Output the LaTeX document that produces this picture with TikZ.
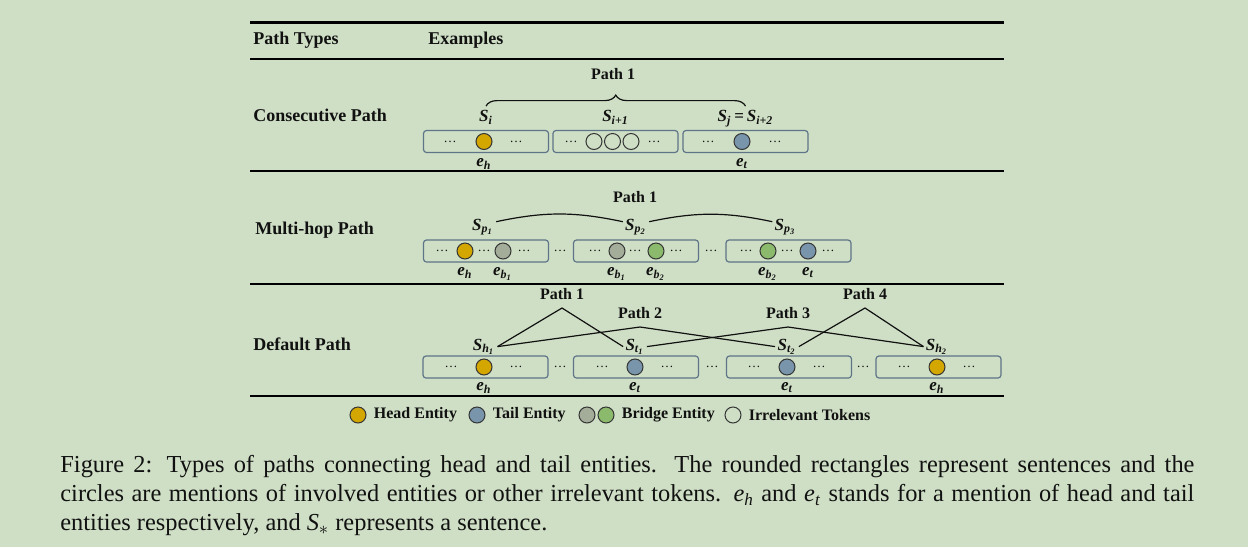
\documentclass[tikz,border=0pt]{standalone}
\usepackage{fontspec}
\setmainfont{Liberation Serif}
\usepackage{xcolor}
\usepackage{tikz}
\usetikzlibrary{positioning,decorations.pathreplacing}
\definecolor{paper}{HTML}{CFDFC5}
\definecolor{head}{HTML}{D4A600}
\definecolor{tail}{HTML}{7895AC}
\definecolor{bridgeA}{HTML}{A4AD9A}
\definecolor{bridgeB}{HTML}{8CBA6C}
\definecolor{frame}{HTML}{5E7589}
\definecolor{ink}{HTML}{111111}
\newcommand{\men}[2]{\textbf{\textit{#1\textsubscript{#2}}}}

\begin{document}
\begin{tikzpicture}[x=0.5pt, y=-0.5pt,
    every node/.style={text=ink, inner sep=1pt},
    lbl/.style={font=\fontsize{8}{9}\selectfont\bfseries},
    slbl/.style={font=\fontsize{8.5}{9}\selectfont, text height=6pt, text depth=2.5pt},
    elbl/.style={font=\fontsize{8.5}{9}\selectfont, text height=4pt, text depth=2.5pt},
    rowlbl/.style={font=\fontsize{9}{10}\selectfont\bfseries, anchor=west},
    apex/.style={lbl, anchor=south, outer sep=3pt},
    sent/.style={draw=frame, line width=0.6pt, rounded corners=1.5pt, minimum width=62.5pt, minimum height=11pt, inner sep=0pt},
    tok/.style={circle, draw=ink!85, line width=0.5pt, minimum size=8pt, inner sep=0pt},
    dd/.style={font=\fontsize{6.5}{7}\selectfont, inner sep=0pt},
    rule/.style={draw=black, line width=1pt},
    link/.style={draw=ink, line width=0.6pt}
  ]
  \fill[paper] (0,0) rectangle (1248,547);
  \useasboundingbox (0,0) rectangle (1248,547);

  % table rules and headers
  \draw[rule, line width=1.5pt] (250,22) -- (1004,22);
  \draw[rule] (250,59) -- (1004,59);
  \draw[rule] (250,171) -- (1004,171);
  \draw[rule] (250,284) -- (1004,284);
  \draw[rule, line width=1.2pt] (250,396) -- (1004,396);
  \node[rowlbl] (hdtype) at (251,40) {Path Types};
  \node[rowlbl] (hdex) at (426,40) {Examples};
  \node[rowlbl] (rcons) at (251,115) {Consecutive Path};
  \node[rowlbl] (rmulti) at (253,230) {Multi-hop Path};
  \node[rowlbl] (rdef) at (251,344) {Default Path};

  % Consecutive path
  \node[sent] (c1) at (486,141.5) {};
  \node[sent] (c2) at (615.5,141.5) {};
  \node[sent] (c3) at (745.5,141.5) {};
  \node[tok, fill=head] (c1h) at (484,141.5) {};
  \node[dd] at (450,141.5) {\dots};
  \node[dd] at (516,141.5) {\dots};
  \node[tok] (c2a) at (594,141.5) {};
  \node[tok] (c2b) at (612.5,141.5) {};
  \node[tok] (c2c) at (631,141.5) {};
  \node[dd] at (571,141.5) {\dots};
  \node[dd] at (654,141.5) {\dots};
  \node[tok, fill=tail] (c3t) at (742,141.5) {};
  \node[dd] at (708,141.5) {\dots};
  \node[dd] at (775,141.5) {\dots};
  \node[slbl, above=0.5pt of c1] (si) {\men{S}{i}};
  \node[slbl, above=0.5pt of c2] (si1) {\men{S}{i+1}};
  \node[slbl, above=0.5pt of c3] (sj) {\men{S}{j}\,\textbf{=}\,\men{S}{i+2}};
  \node[elbl, below=3pt of c1h] (ceh) {\men{e}{h}};
  \node[elbl, below=3pt of c3t] (cet) {\men{e}{t}};
  \draw[link, decorate, decoration={brace, amplitude=5.5pt}] ([yshift=0.5pt]si.north) -- ([yshift=0.5pt]si.north -| sj.north);
  \node[lbl] (cpath) at (613,74) {Path 1};

  % Multi-hop path
  \node[sent] (m1) at (486,251) {};
  \node[sent] (m2) at (636,251) {};
  \node[sent] (m3) at (788.5,251) {};
  \node[dd] at (560,251) {\dots};
  \node[dd] at (711,251) {\dots};
  \node[tok, fill=head] (m1h) at (465,251) {};
  \node[tok, fill=bridgeA] (m1b) at (503,251) {};
  \node[dd] at (442,251) {\dots};
  \node[dd] at (484,251) {\dots};
  \node[dd] at (524,251) {\dots};
  \node[tok, fill=bridgeA] (m2a) at (617,251) {};
  \node[tok, fill=bridgeB] (m2b) at (656,251) {};
  \node[dd] at (595,251) {\dots};
  \node[dd] at (635,251) {\dots};
  \node[dd] at (676,251) {\dots};
  \node[tok, fill=bridgeB] (m3b) at (768,251) {};
  \node[tok, fill=tail] (m3t) at (808,251) {};
  \node[dd] at (746,251) {\dots};
  \node[dd] at (787,251) {\dots};
  \node[dd] at (828,251) {\dots};
  \node[elbl, below=3pt of m1h] {\men{e}{h}};
  \node[elbl, below=3pt of m1b] {\men{e}{b\textsubscript{1}}};
  \node[elbl, below=3pt of m2a] {\men{e}{b\textsubscript{1}}};
  \node[elbl, below=3pt of m2b] {\men{e}{b\textsubscript{2}}};
  \node[elbl, below=3pt of m3b] {\men{e}{b\textsubscript{2}}};
  \node[elbl, below=3pt of m3t] {\men{e}{t}};
  \node[slbl, above=1pt of m1, xshift=-1.5pt] (sp1) {\men{S}{p\textsubscript{1}}};
  \node[slbl, above=1pt of m2] (sp2) {\men{S}{p\textsubscript{2}}};
  \node[slbl, above=1pt of m3, xshift=-1.5pt] (sp3) {\men{S}{p\textsubscript{3}}};
  \draw[link] (sp1.20) to[bend left=12] (sp2.160);
  \draw[link] (sp2.20) to[bend left=12] (sp3.160);
  \node[lbl] (mpath) at (635,197) {Path 1};

  % Default path
  \node[sent] (d1) at (485.5,367) {};
  \node[sent] (d2) at (636,367) {};
  \node[sent] (d3) at (789,367) {};
  \node[sent] (d4) at (938.5,367) {};
  \node[dd] at (560,367) {\dots};
  \node[dd] at (712,367) {\dots};
  \node[dd] at (863,367) {\dots};
  \node[tok, fill=head] (d1h) at (484,367) {};
  \node[tok, fill=tail] (d2t) at (635,367) {};
  \node[tok, fill=tail] (d3t) at (787,367) {};
  \node[tok, fill=head] (d4h) at (937,367) {};
  \node[dd] at (451,367) {\dots};
  \node[dd] at (516,367) {\dots};
  \node[dd] at (602,367) {\dots};
  \node[dd] at (667,367) {\dots};
  \node[dd] at (754,367) {\dots};
  \node[dd] at (819,367) {\dots};
  \node[dd] at (904,367) {\dots};
  \node[dd] at (969,367) {\dots};
  \node[elbl, below=2.5pt of d1h] {\men{e}{h}};
  \node[elbl, below=2.5pt of d2t] {\men{e}{t}};
  \node[elbl, below=2.5pt of d3t] {\men{e}{t}};
  \node[elbl, below=2.5pt of d4h] {\men{e}{h}};
  \node[slbl, above=0.5pt of d1h] (sh1) {\men{S}{h\textsubscript{1}}};
  \node[slbl, above=0.5pt of d2t] (st1) {\men{S}{t\textsubscript{1}}};
  \node[slbl, above=0.5pt of d3t] (st2) {\men{S}{t\textsubscript{2}}};
  \node[slbl, above=0.5pt of d4h] (sh2) {\men{S}{h\textsubscript{2}}};
  \node[apex] (dp1) at (562,308) {Path 1};
  \node[apex] (dp2) at (640,327) {Path 2};
  \node[apex] (dp3) at (788,327) {Path 3};
  \node[apex] (dp4) at (865,308) {Path 4};
  \draw[link] (sh1.east) -- (dp1.south) -- (st1.west);
  \draw[link] (sh1.east) -- (dp2.south) -- (st2.west);
  \draw[link] (st1.east) -- (dp3.south) -- (sh2.west);
  \draw[link] (st2.east) -- (dp4.south) -- (sh2.west);

  % Legend
  \node[tok, fill=head] (lgh) at (358,415) {};
  \node[lbl, right=2.5pt of lgh] (lghtxt) {Head Entity};
  \node[tok, fill=tail] (lgt) at (477,415) {};
  \node[lbl, right=2.5pt of lgt] (lgttxt) {Tail Entity};
  \node[tok, fill=bridgeA] (lgba) at (587,415) {};
  \node[tok, fill=bridgeB] (lgbb) at (606,415) {};
  \node[lbl, right=2.5pt of lgbb] (lgbtxt) {Bridge Entity};
  \node[tok] (lgi) at (733,415) {};
  \node[lbl, right=2.5pt of lgi] (lgitxt) {Irrelevant Tokens};

  % Caption
  \node[anchor=north west, text width=567pt, align=justify, inner sep=0pt, font=\fontsize{12.2}{14.5}\selectfont] (caption) at (60,455)
    {Figure 2: Types of paths connecting head and tail entities. The rounded rectangles represent sentences and the\linebreak
     circles are mentions of involved entities or other irrelevant tokens. \textit{e}\textsubscript{\textit{h}} and \textit{e}\textsubscript{\textit{t}} stands for a mention of head and tail\linebreak
     entities respectively, and \textit{S}\textsubscript{$\ast$} represents a sentence.};
\end{tikzpicture}
\end{document}
